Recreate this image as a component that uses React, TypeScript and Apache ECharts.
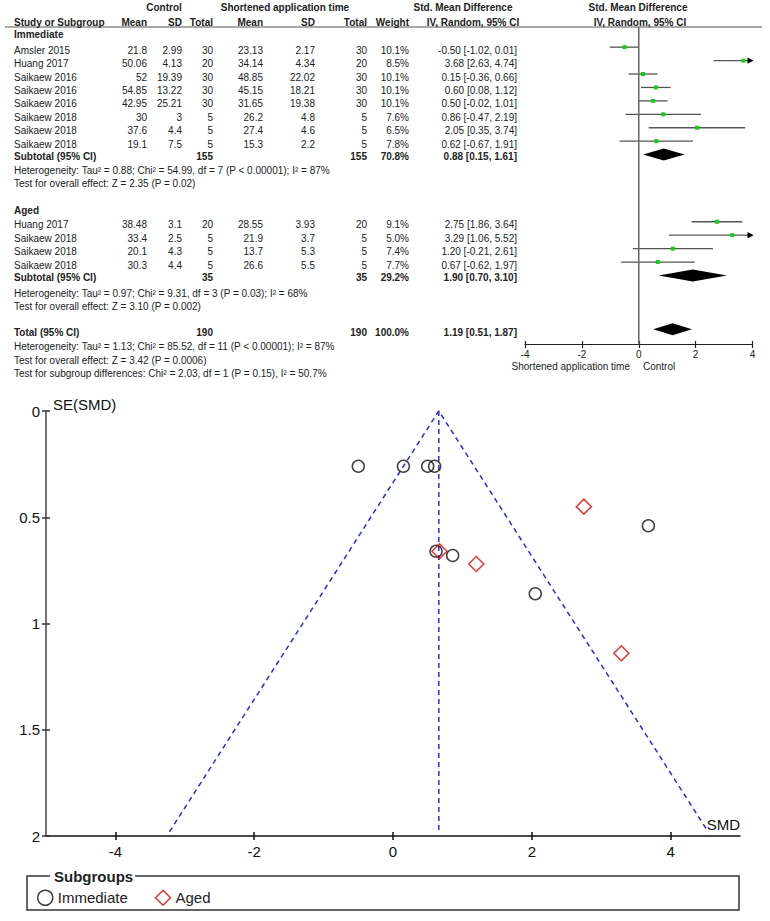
import React, { useEffect, useRef } from "react";
import * as echarts from "echarts";

const FONT = '"Liberation Sans", Arial, Helvetica, sans-serif';

// ---------- Forest plot data ----------
// Immediate subgroup
const immStudies = ["Amsler 2015", "Huang 2017", "Saikaew 2016", "Saikaew 2016", "Saikaew 2016", "Saikaew 2018", "Saikaew 2018", "Saikaew 2018"];
const immCtrlMean = ["21.8", "50.06", "52", "54.85", "42.95", "30", "37.6", "19.1"];
const immCtrlSD = ["2.99", "4.13", "19.39", "13.22", "25.21", "3", "4.4", "7.5"];
const immCtrlN = [30, 20, 30, 30, 30, 5, 5, 5];
const immExpMean = ["23.13", "34.14", "48.85", "45.15", "31.65", "26.2", "27.4", "15.3"];
const immExpSD = ["2.17", "4.34", "22.02", "18.21", "19.38", "4.8", "4.6", "2.2"];
const immExpN = [30, 20, 30, 30, 30, 5, 5, 5];
const immWeight = ["10.1%", "8.5%", "10.1%", "10.1%", "10.1%", "7.6%", "6.5%", "7.8%"];
const immSMD = [-0.5, 3.68, 0.15, 0.6, 0.5, 0.86, 2.05, 0.62];
const immLo = [-1.02, 2.63, -0.36, 0.08, -0.02, -0.47, 0.35, -0.67];
const immHi = [0.01, 4.74, 0.66, 1.12, 1.01, 2.19, 3.74, 1.91];
const immSubtotal = [0.88, 0.15, 1.61];
const immSubN = 155;
const immSubWeight = "70.8%";
const immHet = "Heterogeneity: Tau² = 0.88; Chi² = 54.99, df = 7 (P < 0.00001); I² = 87%";
const immTest = "Test for overall effect: Z = 2.35 (P = 0.02)";

// Aged subgroup
const agedStudies = ["Huang 2017", "Saikaew 2018", "Saikaew 2018", "Saikaew 2018"];
const agedCtrlMean = ["38.48", "33.4", "20.1", "30.3"];
const agedCtrlSD = ["3.1", "2.5", "4.3", "4.4"];
const agedCtrlN = [20, 5, 5, 5];
const agedExpMean = ["28.55", "21.9", "13.7", "26.6"];
const agedExpSD = ["3.93", "3.7", "5.3", "5.5"];
const agedExpN = [20, 5, 5, 5];
const agedWeight = ["9.1%", "5.0%", "7.4%", "7.7%"];
const agedSMD = [2.75, 3.29, 1.2, 0.67];
const agedLo = [1.86, 1.06, -0.21, -0.62];
const agedHi = [3.64, 5.52, 2.61, 1.97];
const agedSubtotal = [1.9, 0.7, 3.1];
const agedSubN = 35;
const agedSubWeight = "29.2%";
const agedHet = "Heterogeneity: Tau² = 0.97; Chi² = 9.31, df = 3 (P = 0.03); I² = 68%";
const agedTest = "Test for overall effect: Z = 3.10 (P = 0.002)";

// Total
const totalEst = [1.19, 0.51, 1.87];
const totalN = 190;
const totalWeight = "100.0%";
const totalHet = "Heterogeneity: Tau² = 1.13; Chi² = 85.52, df = 11 (P < 0.00001); I² = 87%";
const totalTest = "Test for overall effect: Z = 3.42 (P = 0.0006)";
const subgroupTest = "Test for subgroup differences: Chi² = 2.03, df = 1 (P = 0.15), I² = 50.7%";

const forestTicks = [-4, -2, 0, 2, 4];

// ---------- Funnel plot data ----------
const funnelImmSE = [0.26, 0.54, 0.26, 0.26, 0.26, 0.68, 0.86, 0.66];
const funnelAgedSE = [0.45, 1.14, 0.72, 0.66];
const funnelCenter = 0.66;
const funnelZ = 1.96;
const funnelSEMax = 1.98;
const funnelXTicks = [-4, -2, 0, 2, 4];

// ---------- Layout ----------
const F_TOP = 27;
const F_H = 317;
const F_LEFT = 525;
const F_W = 227.5;
const ROW_MIN = -1.5;
const ROW_MAX = 22.1;
const rowY = (r: number) => F_TOP + ((r - ROW_MIN) / (ROW_MAX - ROW_MIN)) * F_H;

const immRows = [0, 1, 2, 3, 4, 5, 6, 7];
const immSubRow = 8;
const agedRows = [13, 14, 15, 16];
const agedSubRow = 17;
const totalRow = 21;

const COL = { study: 14, cMean: 147, cSD: 182, cN: 213, eMean: 263, eSD: 315, eN: 367, w: 409, ci: 517 };

const fmtCI = (e: number, l: number, h: number) => `${e.toFixed(2)} [${l.toFixed(2)}, ${h.toFixed(2)}]`;

function T(text: string, x: number, y: number, align = "left", bold = false, size = 10, extra: any = {}) {
  return {
    type: "text",
    x,
    y,
    silent: true,
    z: 5,
    style: {
      text,
      fill: "#222",
      fontSize: size,
      fontFamily: FONT,
      fontWeight: bold ? "bold" : "normal",
      align,
      verticalAlign: "middle",
      ...extra,
    },
  };
}

function buildTableGraphics() {
  const g: any[] = [];
  // headers
  g.push(T("Control", 164, 7.3, "center", true));
  g.push(T("Shortened application time", 285, 7.3, "center", true));
  g.push(T("Std. Mean Difference", 463, 7.3, "center", true));
  g.push(T("Std. Mean Difference", 638, 7.3, "center", true));
  g.push(T("Study or Subgroup", COL.study, 22, "left", true));
  g.push(T("Mean", COL.cMean, 22, "right", true));
  g.push(T("SD", COL.cSD, 22, "right", true));
  g.push(T("Total", COL.cN, 22, "right", true));
  g.push(T("Mean", COL.eMean, 22, "right", true));
  g.push(T("SD", COL.eSD, 22, "right", true));
  g.push(T("Total", COL.eN, 22, "right", true));
  g.push(T("Weight", COL.w, 22, "right", true));
  g.push(T("IV, Random, 95% CI", 473, 22, "center", true));
  g.push(T("IV, Random, 95% CI", 640, 22, "center", true));
  g.push({
    type: "line",
    silent: true,
    shape: { x1: 5, y1: 27, x2: 762, y2: 27 },
    style: { stroke: "#555", lineWidth: 1 },
  });

  const studyRows = (names: string[], rows: number[], cm: string[], cs: string[], cn: number[], em: string[], es: string[], en: number[], w: string[], e: number[], lo: number[], hi: number[]) => {
    names.forEach((n, i) => {
      const y = rowY(rows[i]) + 3;
      g.push(T(n, COL.study, y));
      g.push(T(cm[i], COL.cMean, y, "right"));
      g.push(T(cs[i], COL.cSD, y, "right"));
      g.push(T(String(cn[i]), COL.cN, y, "right"));
      g.push(T(em[i], COL.eMean, y, "right"));
      g.push(T(es[i], COL.eSD, y, "right"));
      g.push(T(String(en[i]), COL.eN, y, "right"));
      g.push(T(w[i], COL.w, y, "right"));
      g.push(T(fmtCI(e[i], lo[i], hi[i]), COL.ci, y, "right"));
    });
  };
  const summaryRow = (label: string, y: number, n: number, w: string, est: number[]) => {
    g.push(T(label, COL.study, y, "left", true));
    g.push(T(String(n), COL.cN, y, "right", true));
    g.push(T(String(n), COL.eN, y, "right", true));
    g.push(T(w, COL.w, y, "right", true));
    g.push(T(fmtCI(est[0], est[1], est[2]), COL.ci, y, "right", true));
  };

  g.push(T("Immediate", COL.study, 34.3, "left", true));
  studyRows(immStudies, immRows, immCtrlMean, immCtrlSD, immCtrlN, immExpMean, immExpSD, immExpN, immWeight, immSMD, immLo, immHi);
  summaryRow("Subtotal (95% CI)", rowY(immSubRow) + 1.5, immSubN, immSubWeight, immSubtotal);
  g.push(T(immHet, COL.study, 170.7));
  g.push(T(immTest, COL.study, 183.5));

  g.push(T("Aged", COL.study, 210.7, "left", true));
  studyRows(agedStudies, agedRows, agedCtrlMean, agedCtrlSD, agedCtrlN, agedExpMean, agedExpSD, agedExpN, agedWeight, agedSMD, agedLo, agedHi);
  summaryRow("Subtotal (95% CI)", rowY(agedSubRow) + 2.5, agedSubN, agedSubWeight, agedSubtotal);
  g.push(T(agedHet, COL.study, 293.3));
  g.push(T(agedTest, COL.study, 306.7));

  summaryRow("Total (95% CI)", rowY(totalRow) + 3, totalN, totalWeight, totalEst);
  g.push(T(totalHet, COL.study, 346.7));
  g.push(T(totalTest, COL.study, 360));
  g.push(T(subgroupTest, COL.study, 373.5));

  // forest axis captions
  g.push(T("Shortened application time", 630, 366, "right"));
  g.push(T("Control", 643, 366, "left"));

  // funnel captions
  g.push(T("SE(SMD)", 53, 404, "left", false, 15, { fill: "#111" }));
  g.push(T("SMD", 740, 824, "right", false, 15, { fill: "#111" }));

  // legend frame
  g.push({
    type: "rect",
    silent: true,
    z: 1,
    shape: { x: 27, y: 876, width: 712, height: 34 },
    style: { fill: "none", stroke: "#333", lineWidth: 1.5 },
  });
  g.push(T("Subgroups", 50, 876, "left", true, 15, { fill: "#222", backgroundColor: "#fff", padding: [0, 2, 0, 4] }));
  return g;
}

function renderForest(_params: any, api: any) {
  const est = api.value(0);
  const lo = api.value(1);
  const hi = api.value(2);
  const row = api.value(3);
  const kind = api.value(4);
  const xMin = forestTicks[0];
  const xMax = forestTicks[forestTicks.length - 1];
  if (kind === 0) {
    const a = api.coord([Math.max(lo, xMin), row]);
    const b = api.coord([Math.min(hi, xMax), row]);
    const c = api.coord([est, row]);
    const children: any[] = [
      { type: "line", shape: { x1: a[0], y1: a[1], x2: b[0], y2: b[1] }, style: { stroke: "#555", lineWidth: 1.3 } },
      { type: "rect", shape: { x: c[0] - 2, y: c[1] - 2, width: 4, height: 4 }, style: { fill: "#10d010" } },
    ];
    if (hi > xMax) {
      children.push({
        type: "polygon",
        shape: { points: [[b[0] + 1, b[1]], [b[0] - 5, b[1] - 3.2], [b[0] - 5, b[1] + 3.2]] },
        style: { fill: "#000" },
      });
    }
    return { type: "group", children };
  }
  const l = api.coord([lo, row]);
  const m = api.coord([est, row]);
  const r = api.coord([hi, row]);
  return {
    type: "polygon",
    shape: { points: [[l[0], l[1]], [m[0], m[1] - 6], [r[0], r[1]], [m[0], m[1] + 6]] },
    style: { fill: "#000" },
  };
}

export default function App() {
  const ref = useRef<HTMLDivElement>(null);
  useEffect(() => {
    if (!ref.current) return;
    const chart = echarts.init(ref.current, undefined, { renderer: "svg" });

    const forestData: number[][] = [];
    immSMD.forEach((e, i) => forestData.push([e, immLo[i], immHi[i], immRows[i], 0]));
    forestData.push([immSubtotal[0], immSubtotal[1], immSubtotal[2], immSubRow, 1]);
    agedSMD.forEach((e, i) => forestData.push([e, agedLo[i], agedHi[i], agedRows[i], 0]));
    forestData.push([agedSubtotal[0], agedSubtotal[1], agedSubtotal[2], agedSubRow, 1]);
    forestData.push([totalEst[0], totalEst[1], totalEst[2], totalRow, 1]);

    const funnelBounds = [
      [funnelCenter - funnelZ * funnelSEMax, funnelSEMax],
      [funnelCenter, 0],
      [funnelCenter + funnelZ * funnelSEMax, funnelSEMax],
    ];
    const funnelMid = [
      [funnelCenter, 0],
      [funnelCenter, funnelSEMax],
    ];

    const axisText = { fontFamily: FONT, color: "#111" };

    chart.setOption({
      animation: false,
      backgroundColor: "#fff",
      grid: [
        { left: F_LEFT, top: F_TOP, width: F_W, height: F_H },
        { left: 46, top: 411, width: 694, height: 425 },
      ],
      xAxis: [
        {
          gridIndex: 0, type: "value", min: -4, max: 4, interval: 2, position: "bottom",
          axisLine: { show: true, onZero: false, lineStyle: { color: "#222", width: 1.2 } },
          axisTick: { show: true, length: 4, lineStyle: { color: "#222", width: 1.2 } },
          axisLabel: { show: true, fontSize: 10, margin: 5, ...axisText, color: "#222" },
          splitLine: { show: false },
        },
        {
          gridIndex: 0, type: "value", min: -4, max: 4, interval: 2, position: "bottom",
          axisLine: { show: false, onZero: false },
          axisTick: { show: true, inside: true, length: 3, lineStyle: { color: "#222", width: 1.2 } },
          axisLabel: { show: false },
          splitLine: { show: false },
        },
        {
          gridIndex: 1, type: "value", min: -5, max: 5, position: "bottom",
          axisLine: { show: true, onZero: false, lineStyle: { color: "#111", width: 1.5 } },
          axisTick: { show: true, length: 4, customValues: funnelXTicks, lineStyle: { color: "#111", width: 1.5 } },
          axisLabel: { show: true, fontSize: 15, margin: 8, customValues: funnelXTicks, ...axisText },
          splitLine: { show: false },
        },
        {
          gridIndex: 1, type: "value", min: -5, max: 5, position: "bottom",
          axisLine: { show: false, onZero: false },
          axisTick: { show: true, inside: true, length: 4, customValues: funnelXTicks, lineStyle: { color: "#111", width: 1.5 } },
          axisLabel: { show: false },
          splitLine: { show: false },
        },
      ],
      yAxis: [
        { gridIndex: 0, type: "value", inverse: true, min: ROW_MIN, max: ROW_MAX, show: false, axisLine: { onZero: false } },
        {
          gridIndex: 1, type: "value", inverse: true, min: 0, max: 2, interval: 0.5, position: "left",
          axisLine: { show: true, onZero: false, lineStyle: { color: "#444", width: 1.5 } },
          axisTick: { show: true, length: 4, lineStyle: { color: "#333", width: 1.5 } },
          axisLabel: { show: true, fontSize: 15, margin: 6, ...axisText },
          splitLine: { show: false },
        },
        {
          gridIndex: 1, type: "value", inverse: true, min: 0, max: 2, interval: 0.5, position: "left",
          axisLine: { show: false, onZero: false },
          axisTick: { show: true, inside: true, length: 4, lineStyle: { color: "#333", width: 1.5 } },
          axisLabel: { show: false },
          splitLine: { show: false },
        },
      ],
      legend: {
        data: [
          { name: "Immediate", icon: "circle", itemStyle: { color: "transparent", borderColor: "#111", borderWidth: 1.5 } },
          { name: "Aged", icon: "diamond", itemStyle: { color: "transparent", borderColor: "#e00000", borderWidth: 1.5 } },
        ],
        left: 32,
        top: 884.5,
        itemWidth: 15,
        itemHeight: 15,
        itemGap: 27,
        selectedMode: false,
        textStyle: { fontSize: 15, fontFamily: FONT, color: "#222" },
      },
      graphic: buildTableGraphics(),
      series: [
        {
          type: "line",
          xAxisIndex: 0,
          yAxisIndex: 0,
          data: [[0, ROW_MIN], [0, ROW_MAX]],
          symbol: "none",
          silent: true,
          lineStyle: { color: "#666", width: 1.5 },
        },
        {
          type: "custom",
          xAxisIndex: 0,
          yAxisIndex: 0,
          renderItem: renderForest,
          data: forestData,
          encode: { x: [0, 1, 2], y: 3 },
          clip: false,
          silent: true,
          z: 3,
        },
        {
          name: "funnel",
          type: "line",
          xAxisIndex: 2,
          yAxisIndex: 1,
          data: funnelBounds,
          symbol: "none",
          silent: true,
          lineStyle: { color: "#2a2ae6", width: 1.5, type: [5, 4] },
        },
        {
          name: "funnelMid",
          type: "line",
          xAxisIndex: 2,
          yAxisIndex: 1,
          data: funnelMid,
          symbol: "none",
          silent: true,
          lineStyle: { color: "#2a2ae6", width: 1.5, type: [5, 4] },
        },
        {
          name: "Immediate",
          type: "scatter",
          xAxisIndex: 2,
          yAxisIndex: 1,
          data: immSMD.map((x, i) => [x, funnelImmSE[i]]),
          symbol: "circle",
          symbolSize: 12,
          silent: true,
          z: 4,
          itemStyle: { color: "transparent", borderColor: "#111", borderWidth: 1.5 },
        },
        {
          name: "Aged",
          type: "scatter",
          xAxisIndex: 2,
          yAxisIndex: 1,
          data: agedSMD.map((x, i) => [x, funnelAgedSE[i]]),
          symbol: "diamond",
          symbolSize: 15,
          silent: true,
          z: 4,
          itemStyle: { color: "transparent", borderColor: "#e00000", borderWidth: 1.5 },
        },
      ],
    });
    return () => chart.dispose();
  }, []);
  return (
    <div
      ref={ref}
      style={{ position: "fixed", left: 0, top: 0, width: 770, height: 921, background: "#fff" }}
    />
  );
}
